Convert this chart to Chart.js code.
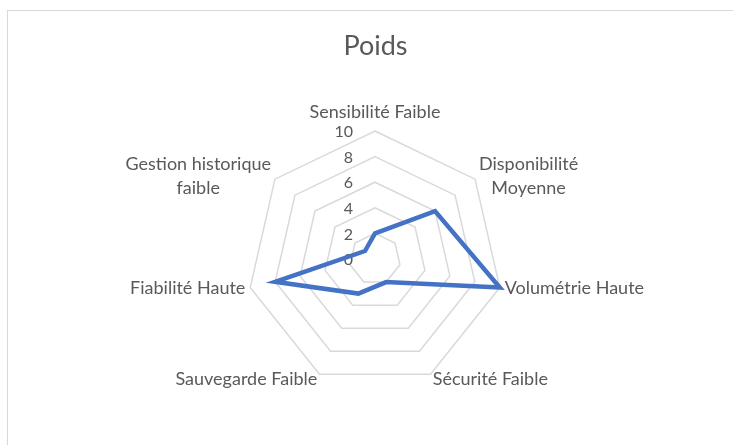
<!DOCTYPE html>
<html>
<head>
<meta charset="utf-8">
<script src="https://cdn.jsdelivr.net/npm/chart.js@4.4.0/dist/chart.umd.min.js"></script>
<style>
  body { margin: 0; background: #fff; }
  #frame { position: absolute; left: 7px; top: 10px; width: 760px; height: 470px; border: 1px solid #d9d9d9; }
  #wrap { position: absolute; left: 0; top: 0; width: 733px; height: 445px; }
</style>
</head>
<body>
<div id="frame"></div>
<div id="wrap"><canvas id="myChart"></canvas></div>
<script>
var categories = ['Sensibilité Faible', ['Disponibilité', 'Moyenne'], 'Volumétrie Haute', 'Sécurité Faible', 'Sauvegarde Faible', 'Fiabilité Haute', ['Gestion historique', 'faible']];
var poids = [2, 6, 10, 2, 3, 8, 1];
var tickValues = [0, 2, 4, 6, 8, 10];

var textColor = '#595959';
var labelFont = '18px Lato';
var tickFont = '16px Lato';

// axis names and tick numbers, placed from the radial scale's own geometry
var radarText = {
    id: 'radarText',
    beforeDatasetsDraw(chart) {
        var r = chart.scales.r;
        var ctx = chart.ctx;
        ctx.save();
        ctx.fillStyle = textColor;

        ctx.font = tickFont;
        ctx.textAlign = 'right';
        ctx.textBaseline = 'middle';
        tickValues.forEach(v => {
            var y = r.yCenter - r.getDistanceFromCenterForValue(v);
            ctx.fillText(String(v), r.xCenter - 22, y + 1);
        });

        ctx.font = labelFont;
        var lineH = 24;
        ctx.textAlign = 'center';
        categories.forEach((label, i) => {
            var lines = [].concat(label);
            var p = r.getPointPosition(i, r.drawingArea + 5);
            var w = Math.max(...lines.map(t => ctx.measureText(t).width));
            var h = lines.length * lineH;
            var cx = p.x;
            if (p.x > r.xCenter + 1) cx = p.x + w / 2;
            else if (p.x < r.xCenter - 1) cx = p.x - w / 2;
            var top = p.y - h / 2;
            if (Math.abs(p.x - r.xCenter) <= 1) top = p.y < r.yCenter ? p.y - h - 2 : p.y;
            lines.forEach((t, j) => ctx.fillText(t, cx, top + lineH * j + lineH / 2));
        });
        ctx.restore();
    }
};

var ctx = document.getElementById('myChart');

var myChart = new Chart(ctx, {
    type: 'radar',
    data: {
        labels: categories,
        datasets: [{
            label: 'Poids',
            data: poids,
            borderColor: '#4472C4',
            borderWidth: 4.5,
            borderJoinStyle: 'miter',
            pointRadius: 0,
            pointHoverRadius: 0,
            fill: false,
            tension: 0
        }]
    },
    options: {
        responsive: true,
        maintainAspectRatio: false,
        animation: false,
        layout: { padding: { left: 18, right: 0, top: 0, bottom: 58 } },
        plugins: {
            legend: { display: false },
            tooltip: { enabled: false },
            title: {
                display: true,
                text: 'Poids',
                color: textColor,
                font: { family: 'Lato', size: 27, weight: 'normal', lineHeight: 1.2 },
                padding: { top: 30, bottom: 68.6 }
            }
        },
        scales: {
            r: {
                min: tickValues[0],
                max: tickValues[tickValues.length - 1],
                ticks: { stepSize: tickValues[1] - tickValues[0], display: false, showLabelBackdrop: false },
                grid: { color: '#d9d9d9', lineWidth: 1.5 },
                angleLines: { display: false },
                pointLabels: { display: false }
            }
        }
    },
    plugins: [radarText]
});
</script>
</body>
</html>
